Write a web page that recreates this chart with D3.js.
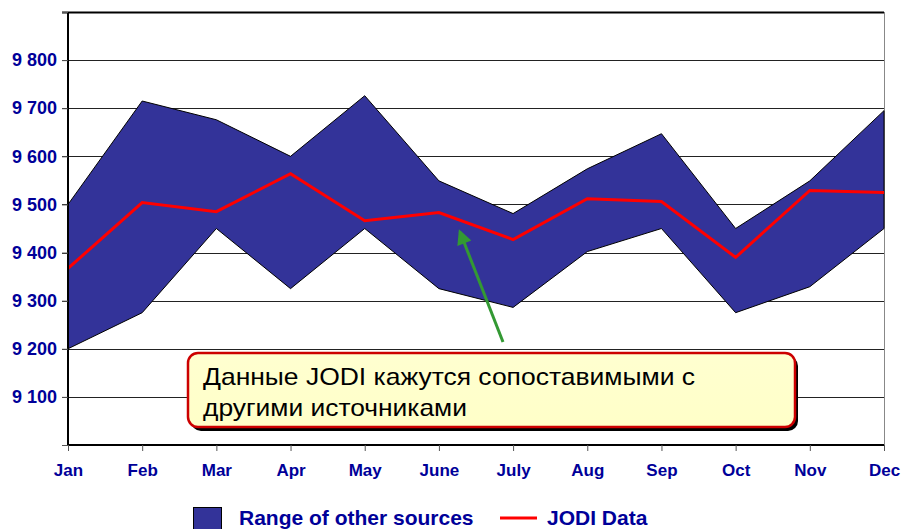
<!DOCTYPE html>
<html>
<head>
<meta charset="utf-8">
<script src="https://cdn.jsdelivr.net/npm/d3@7"></script>
<style>
  body { margin: 0; background: #fff; }
  svg { display: block; }
</style>
</head>
<body>
<div id="chart"></div>
<script>
const months = ["Jan", "Feb", "Mar", "Apr", "May", "June", "July", "Aug", "Sep", "Oct", "Nov", "Dec"];
const rangeHigh = [9500, 9715, 9676, 9600, 9726, 9549, 9481, 9574, 9647, 9450, 9549, 9695];
const rangeLow = [9200, 9275, 9450, 9325, 9450, 9325, 9286, 9402, 9450, 9275, 9329, 9450];
const jodi = [9367, 9504, 9485, 9564, 9466, 9483, 9427, 9512, 9506, 9390, 9529, 9525];
const yTicks = [9000, 9100, 9200, 9300, 9400, 9500, 9600, 9700, 9800, 9900];

const width = 902, height = 529;
const margin = { top: 12, right: 18, bottom: 84, left: 68 };
const font = "Arial, 'Liberation Sans', sans-serif";
const blue = "#000099";
const fillColor = "#333399";

const svg = d3.select("#chart").append("svg")
  .attr("width", width)
  .attr("height", height);

const x = d3.scalePoint()
  .domain(months)
  .range([margin.left, width - margin.right]);

const y = d3.scaleLinear()
  .domain([9000, 9900])
  .range([height - margin.bottom, margin.top]);

// grid lines
svg.append("g")
  .selectAll("line")
  .data(yTicks.slice(1))
  .join("line")
  .attr("x1", margin.left - 6)
  .attr("x2", width - margin.right)
  .attr("y1", d => Math.round(y(d)) + 0.5)
  .attr("y2", d => Math.round(y(d)) + 0.5)
  .attr("stroke", d => d === 9900 ? "#000" : "#222")
  .attr("stroke-width", d => d === 9900 ? 2 : 1);

// right border
svg.append("line")
  .attr("x1", width - margin.right + 0.5)
  .attr("x2", width - margin.right + 0.5)
  .attr("y1", y(9900))
  .attr("y2", y(9000))
  .attr("stroke", "#888");

// range area
const data = months.map((m, i) => ({ m, lo: rangeLow[i], hi: rangeHigh[i], v: jodi[i] }));

svg.append("path")
  .datum(data)
  .attr("fill", fillColor)
  .attr("stroke", "#000")
  .attr("stroke-width", 1)
  .attr("d", d3.area()
    .x(d => x(d.m))
    .y0(d => y(d.lo))
    .y1(d => y(d.hi)));

// JODI line
svg.append("path")
  .datum(data)
  .attr("fill", "none")
  .attr("stroke", "#ff0000")
  .attr("stroke-width", 3)
  .attr("d", d3.line()
    .x(d => x(d.m))
    .y(d => y(d.v)));

// y axis
const yAxis = svg.append("g")
  .attr("transform", `translate(${margin.left},0)`)
  .call(d3.axisLeft(y)
    .tickValues(yTicks)
    .tickSize(6)
    .tickPadding(5)
    .tickFormat(d => (d === 9000 || d === 9900) ? "" : d3.format(",")(d).replace(",", " ")));
yAxis.select(".domain").attr("stroke", "#000").attr("stroke-width", 2).attr("d", `M0,${y(9900)}V${y(9000)}`);
yAxis.selectAll(".tick line").attr("stroke", "#555");
yAxis.selectAll("text")
  .attr("fill", blue)
  .style("font-family", font)
  .style("font-weight", "bold")
  .style("font-size", "18px");

// x axis
const xAxis = svg.append("g")
  .attr("transform", `translate(0,${y(9000)})`)
  .call(d3.axisBottom(x).tickSize(6).tickPadding(13));
xAxis.select(".domain").attr("stroke", "#000").attr("stroke-width", 2).attr("d", `M${margin.left},0H${width - margin.right}`);
xAxis.selectAll(".tick line").attr("stroke", "#555");
xAxis.selectAll("text")
  .attr("fill", blue)
  .style("font-family", font)
  .style("font-weight", "bold")
  .style("font-size", "17px");

// green arrow
const defs = svg.append("defs");
defs.append("marker")
  .attr("id", "arrowhead")
  .attr("viewBox", "0 0 10 10")
  .attr("refX", 8)
  .attr("refY", 5)
  .attr("markerWidth", 6)
  .attr("markerHeight", 5)
  .attr("orient", "auto")
  .append("path")
  .attr("d", "M0,0L10,5L0,10z")
  .attr("fill", "#339933");

svg.append("line")
  .attr("x1", 503).attr("y1", 342)
  .attr("x2", 460).attr("y2", 232)
  .attr("stroke", "#339933")
  .attr("stroke-width", 3)
  .attr("marker-end", "url(#arrowhead)");

// callout
const grad = defs.append("linearGradient")
  .attr("id", "calloutFill")
  .attr("x1", 0).attr("y1", 0).attr("x2", 0).attr("y2", 1);
grad.append("stop").attr("offset", "0%").attr("stop-color", "#ffffd0");
grad.append("stop").attr("offset", "100%").attr("stop-color", "#ffffc8");

const callout = svg.append("g");
callout.append("rect")
  .attr("x", 191).attr("y", 356)
  .attr("width", 607).attr("height", 75)
  .attr("rx", 10)
  .attr("fill", "#000");
callout.append("rect")
  .attr("x", 188).attr("y", 353)
  .attr("width", 607).attr("height", 74)
  .attr("rx", 10)
  .attr("fill", "url(#calloutFill)")
  .attr("stroke", "#cc0000")
  .attr("stroke-width", 2.5);
callout.append("text")
  .attr("x", 203).attr("y", 385)
  .attr("textLength", 492)
  .attr("lengthAdjust", "spacingAndGlyphs")
  .style("font-family", font)
  .style("font-size", "24px")
  .attr("fill", "#000")
  .text("Данные JODI кажутся сопоставимыми с");
callout.append("text")
  .attr("x", 203).attr("y", 416)
  .attr("textLength", 264)
  .attr("lengthAdjust", "spacingAndGlyphs")
  .style("font-family", font)
  .style("font-size", "24px")
  .attr("fill", "#000")
  .text("другими источниками");

// legend
const legend = svg.append("g");
legend.append("rect")
  .attr("x", 193.5).attr("y", 507.5)
  .attr("width", 28).attr("height", 28)
  .attr("fill", fillColor)
  .attr("stroke", "#000");
legend.append("text")
  .attr("x", 239).attr("y", 525)
  .attr("fill", blue)
  .style("font-family", font)
  .style("font-weight", "bold")
  .style("font-size", "21px")
  .text("Range of other sources");
legend.append("line")
  .attr("x1", 500).attr("x2", 537)
  .attr("y1", 518).attr("y2", 518)
  .attr("stroke", "#ff0000")
  .attr("stroke-width", 3);
legend.append("text")
  .attr("x", 547).attr("y", 525)
  .attr("fill", blue)
  .style("font-family", font)
  .style("font-weight", "bold")
  .style("font-size", "21px")
  .text("JODI Data");
</script>
</body>
</html>
